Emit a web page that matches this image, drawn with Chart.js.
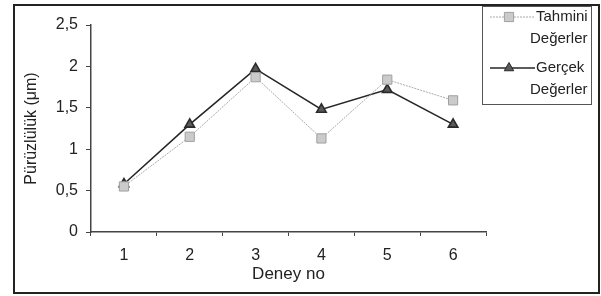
<!DOCTYPE html>
<html>
<head>
<meta charset="utf-8">
<script src="https://cdn.jsdelivr.net/npm/chart.js@4/dist/chart.umd.min.js"></script>
<style>
  html, body { margin: 0; padding: 0; background: #fff; }
  #wrap { position: relative; width: 601px; height: 296px; }
  #frame { position: absolute; left: 13px; top: 4px; width: 583px; height: 286px; border: 2px solid #222; }
  canvas { position: absolute; left: 0; top: 0; }
</style>
</head>
<body>
<div id="wrap">
  <div id="frame"></div>
  <canvas id="chart" width="601" height="296"></canvas>
</div>
<script>
// deney numaralari
var deneyNo = ["1", "2", "3", "4", "5", "6"];
var tahmini = [0.55, 1.15, 1.87, 1.13, 1.84, 1.59];
var gercek = [0.58, 1.30, 1.97, 1.48, 1.72, 1.30];
var yTicks = [0, 0.5, 1, 1.5, 2, 2.5];

var fontName = "'Liberation Sans', Arial, sans-serif";

// legend drawn by hand, labels wrap on two lines
var boxLegend = {
    id: 'boxLegend',
    afterDraw: function (chart) {
        var ctx = chart.ctx;
        ctx.save();
        ctx.strokeStyle = '#555';
        ctx.lineWidth = 1;
        ctx.strokeRect(482.5, 6.5, 109, 98);

        var entries = [
            { ds: chart.data.datasets[0], y: 17, lines: ["Tahmini", "Değerler"] },
            { ds: chart.data.datasets[1], y: 68, lines: ["Gerçek", "Değerler"] }
        ];
        entries.forEach(function (e) {
            ctx.strokeStyle = e.ds.borderColor;
            ctx.lineWidth = e.ds.borderWidth;
            ctx.setLineDash(e.ds.borderDash || []);
            ctx.beginPath();
            ctx.moveTo(490, e.y);
            ctx.lineTo(535, e.y);
            ctx.stroke();
            ctx.setLineDash([]);
            ctx.fillStyle = e.ds.pointBackgroundColor;
            ctx.strokeStyle = e.ds.pointBorderColor;
            ctx.lineWidth = 1;
            Chart.helpers.drawPoint(ctx, {
                pointStyle: e.ds.pointStyle,
                radius: e.ds.pointRadius,
                rotation: 0,
                borderWidth: 1
            }, 509, e.y);

            ctx.fillStyle = '#222';
            ctx.font = '15px ' + fontName;
            ctx.textBaseline = 'middle';
            ctx.textAlign = 'left';
            ctx.fillText(e.lines[0], 536, e.y);
            ctx.fillText(e.lines[1], 530, e.y + 22);
        });
        ctx.restore();
    }
};

var ctx = document.getElementById("chart");
var chart = new Chart(ctx, {
    type: 'line',
    data: {
        labels: deneyNo,
        datasets: [
            {
                label: "Tahmini Değerler",
                data: tahmini,
                borderColor: '#aaaaaa',
                borderWidth: 1,
                borderDash: [2, 1],
                pointStyle: 'rect',
                pointRadius: 6.5,
                pointBackgroundColor: '#cbcbcb',
                pointBorderColor: '#a0a0a0',
                tension: 0
            },
            {
                label: "Gerçek Değerler",
                data: gercek,
                borderColor: '#262626',
                borderWidth: 1.6,
                pointStyle: 'triangle',
                pointRadius: 5.5,
                pointBackgroundColor: '#5a5a5a',
                pointBorderColor: '#2a2a2a',
                tension: 0
            }
        ]
    },
    options: {
        responsive: false,
        animation: false,
        layout: { padding: { left: 0, right: 115, top: 25, bottom: 0 } },
        plugins: {
            legend: { display: false },
            tooltip: { enabled: false }
        },
        scales: {
            x: {
                offset: true,
                afterFit: function (axis) { axis.height = 64; },
                grid: {
                    offset: true,
                    drawOnChartArea: false,
                    tickLength: 4,
                    color: '#444'
                },
                border: { color: '#444', width: 1.5 },
                ticks: { color: '#222', font: { family: fontName, size: 16 }, padding: 10 },
                title: {
                    display: true,
                    text: "Deney no",
                    color: '#222',
                    font: { family: fontName, size: 17 },
                    padding: { top: 0, bottom: 11 }
                }
            },
            y: {
                min: 0,
                max: 2.5,
                afterFit: function (axis) { axis.width = 91; },
                afterBuildTicks: function (axis) {
                    axis.ticks = yTicks.map(function (v) { return { value: v }; });
                },
                grid: {
                    drawOnChartArea: false,
                    tickLength: 5,
                    color: '#444'
                },
                border: { color: '#444', width: 1.5 },
                ticks: {
                    color: '#222',
                    font: { family: fontName, size: 16 },
                    padding: 8,
                    callback: function (v) { return String(v).replace('.', ','); }
                },
                title: {
                    display: true,
                    text: "Pürüzlülük (μm)",
                    color: '#222',
                    font: { family: fontName, size: 16 },
                    padding: { top: 22, bottom: 0 }
                }
            }
        }
    },
    plugins: [boxLegend]
});
</script>
</body>
</html>
